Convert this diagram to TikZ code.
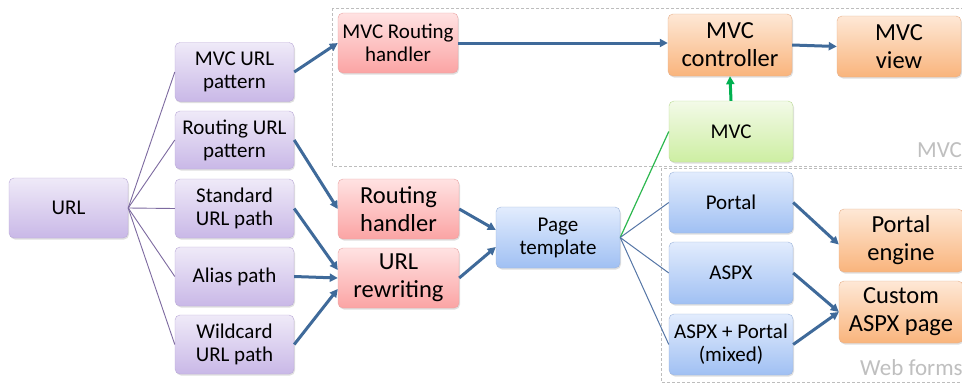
\documentclass[tikz,border=0pt]{standalone}
\usepackage{fontspec}
\setmainfont{Carlito}
\usetikzlibrary{shadows,arrows.meta,calc}
\definecolor{ptop}{HTML}{EFEAF8}
\definecolor{pbot}{HTML}{C9B8E7}
\definecolor{pbrd}{HTML}{BBAAD8}
\definecolor{rtop}{HTML}{FFE2E2}
\definecolor{rbot}{HTML}{FBA4A4}
\definecolor{rbrd}{HTML}{E9A3A3}
\definecolor{otop}{HTML}{FEE8D6}
\definecolor{obot}{HTML}{F9B47C}
\definecolor{obrd}{HTML}{E6B08C}
\definecolor{gtop}{HTML}{F3FAE8}
\definecolor{gbot}{HTML}{CDEEA2}
\definecolor{gbrd}{HTML}{BADB94}
\definecolor{btop}{HTML}{E2ECFD}
\definecolor{bbot}{HTML}{A0C0F3}
\definecolor{bbrd}{HTML}{9EB5DC}
\definecolor{arrowblue}{HTML}{3F6A9A}
\definecolor{thinpurple}{HTML}{7D6AA0}
\definecolor{thinblue}{HTML}{5576A6}
\definecolor{thingreen}{HTML}{2DB84F}
\definecolor{arrowgreen}{HTML}{00B050}
\definecolor{dashgray}{HTML}{BDBDBD}
\definecolor{labelgray}{HTML}{BFBFBF}
\tikzset{
  boxbase/.style={rounded corners=5pt, align=center, inner sep=1pt,
    drop shadow={opacity=0.25, shadow xshift=1pt, shadow yshift=-1.5pt},
    font=\fontsize{21}{23}\selectfont},
  bigtext/.style={font=\fontsize{24.5}{28}\selectfont},
  pbox/.style={boxbase, draw=pbrd, top color=ptop, bottom color=pbot, minimum width=119pt, minimum height=59pt},
  rbox/.style={boxbase, draw=rbrd, top color=rtop, bottom color=rbot, minimum width=120pt, minimum height=60pt},
  obox/.style={boxbase, draw=obrd, top color=otop, bottom color=obot, minimum width=124pt, minimum height=62pt},
  gbox/.style={boxbase, draw=gbrd, top color=gtop, bottom color=gbot, minimum width=124pt, minimum height=61pt},
  bbox/.style={boxbase, draw=bbrd, top color=btop, bottom color=bbot, minimum width=124pt, minimum height=61pt},
  thick arrow/.style={draw=arrowblue, line width=3pt, -{Triangle[length=8pt,width=8pt]}},
  thinp/.style={draw=thinpurple, line width=0.9pt},
  thinb/.style={draw=thinblue, line width=1pt},
  thing/.style={draw=thingreen, line width=1.2pt},
  region/.style={draw=dashgray, line width=1pt, dash pattern=on 3pt off 2pt},
  regionlabel/.style={text=labelgray, inner sep=0pt, font=\fontsize{23}{26}\selectfont}
}
\begin{document}
\begin{tikzpicture}[x=1pt,y=-1pt]
\useasboundingbox (0,0) rectangle (962,383);
\clip (0,0) rectangle (962,383);
\fill[white] (0,0) rectangle (962,383);
% regions
\draw[region] (332,8) rectangle (985,166);
\draw[region] (661,168) rectangle (985,382);
\node[regionlabel, anchor=base west] (lblmvc) at (917,157) {MVC};
\node[regionlabel, anchor=base west] (lblweb) at (860,375) {Web forms};
% nodes
\node[pbox, minimum height=60pt] (url) at (68.5,208) {URL};
\node[pbox] (mvcurl) at (234.5,72) {MVC URL\\pattern};
\node[pbox, minimum height=58pt] (routurl) at (234.5,140) {Routing URL\\pattern};
\node[pbox] (std) at (234.5,208.5) {Standard\\URL path};
\node[pbox] (alias) at (234.5,276.5) {Alias path};
\node[pbox] (wild) at (234.5,344.5) {Wildcard\\URL path};
\node[rbox] (mvcrh) at (398,43) {MVC Routing\\handler};
\node[rbox, bigtext, minimum width=121pt] (routh) at (398.5,209) {Routing\\handler};
\node[rbox, bigtext, minimum width=121pt] (urlrw) at (398.5,278) {URL\\rewriting};
\node[bbox] (page) at (558,237.5) {Page\\template};
\node[obox, bigtext] (ctrl) at (730,45) {MVC\\controller};
\node[obox, bigtext, minimum height=61pt] (view) at (899,46.5) {MVC\\view};
\node[gbox] (mvcg) at (731,131.5) {MVC};
\node[bbox] (portal) at (731,202.5) {Portal};
\node[bbox, minimum height=62pt] (aspx) at (731,273) {ASPX};
\node[bbox] (mixed) at (731,344.5) {ASPX + Portal\\(mixed)};
\node[obox, bigtext, minimum height=63pt] (pengine) at (901,240.5) {Portal\\engine};
\node[obox, bigtext] (custom) at (901,312) {Custom\\ASPX page};
% thin connectors
\foreach \t in {mvcurl,routurl,std,alias,wild}
  \draw[thinp] (url.east) -- (\t.west);
\draw[thing] (page.east) -- (mvcg.west);
\foreach \t in {portal,aspx,mixed}
  \draw[thinb] (page.east) -- (\t.west);
% thick arrows
\draw[thick arrow] (mvcurl.east) -- (mvcrh.west);
\draw[thick arrow] (routurl.east) -- (routh.west);
\draw[thick arrow] (std.east) -- ($(urlrw.west)+(0,-8)$);
\draw[thick arrow] (alias.east) -- (urlrw.west);
\draw[thick arrow] (wild.east) -- ($(urlrw.west)+(0,11)$);
\draw[thick arrow] (mvcrh.east) -- (ctrl.west |- mvcrh.east);
\draw[thick arrow] (routh.east) -- ($(page.west)+(0,-7.5)$);
\draw[thick arrow] (urlrw.east) -- ($(page.west)+(0,9.5)$);
\draw[thick arrow] (ctrl.east) -- (view.west);
\draw[draw=arrowgreen, line width=3pt, -{Triangle[length=8pt,width=8pt]}] (mvcg.north) -- (ctrl.south);
\draw[thick arrow] (portal.east) -- ($(pengine.west)+(0,4)$);
\draw[thick arrow] (aspx.east) -- (custom.west);
\draw[thick arrow] (mixed.east) -- (custom.west);
\end{tikzpicture}
\end{document}
